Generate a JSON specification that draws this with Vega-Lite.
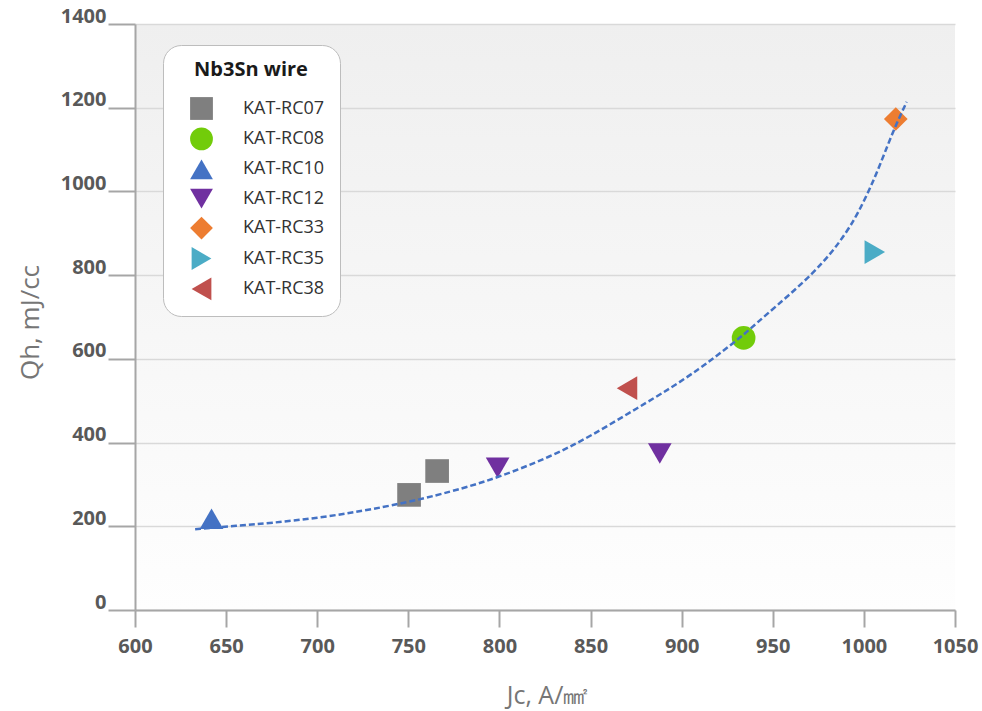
{
  "$schema": "https://vega.github.io/schema/vega-lite/v6.json",
  "width": 820,
  "height": 586,
  "autosize": {"type": "none"},
  "padding": {"left": 135, "top": 24, "right": 27, "bottom": 101},
  "background": "#ffffff",
  "config": {
    "font": "Open Sans",
    "view": {
      "stroke": null,
      "fill": {
        "gradient": "linear",
        "x1": 0, "y1": 0, "x2": 0, "y2": 1,
        "stops": [
          {"offset": 0, "color": "#efefef"},
          {"offset": 1, "color": "#fefefe"}
        ]
      }
    },
    "legend": {
      "orient": "none",
      "legendX": 28,
      "legendY": 21,
      "fillColor": "#ffffff",
      "strokeColor": "#bdbdbd",
      "cornerRadius": 18,
      "padding": 15,
      "symbolOffset": 12,
      "titleFont": "Open Sans",
      "titleFontSize": 20,
      "titleFontWeight": "bold",
      "titleColor": "#1a1a1a",
      "titleAnchor": "middle",
      "titlePadding": 17,
      "labelFont": "Open Sans",
      "labelFontSize": 18,
      "labelColor": "#333333",
      "labelOffset": 30,
      "symbolSize": 520,
      "symbolStrokeWidth": 0,
      "rowPadding": 7.4
    }
  },
  "datasets": {
    "samples": [
      {"wire": "KAT-RC07", "Jc": 750.4, "Qh": 275},
      {"wire": "KAT-RC07", "Jc": 765.8, "Qh": 332},
      {"wire": "KAT-RC08", "Jc": 934, "Qh": 650},
      {"wire": "KAT-RC10", "Jc": 642, "Qh": 218},
      {"wire": "KAT-RC12", "Jc": 799, "Qh": 340},
      {"wire": "KAT-RC12", "Jc": 888, "Qh": 374},
      {"wire": "KAT-RC33", "Jc": 1017.5, "Qh": 1173},
      {"wire": "KAT-RC35", "Jc": 1006, "Qh": 855},
      {"wire": "KAT-RC38", "Jc": 870, "Qh": 530}
    ],
    "fit": [
      {"Jc": 633, "Qh": 193},
      {"Jc": 650, "Qh": 199},
      {"Jc": 700, "Qh": 217},
      {"Jc": 750, "Qh": 256},
      {"Jc": 782, "Qh": 293},
      {"Jc": 800, "Qh": 318},
      {"Jc": 828, "Qh": 366},
      {"Jc": 850, "Qh": 415},
      {"Jc": 877, "Qh": 486},
      {"Jc": 894, "Qh": 530},
      {"Jc": 910, "Qh": 577},
      {"Jc": 921, "Qh": 613},
      {"Jc": 934, "Qh": 657},
      {"Jc": 943, "Qh": 693},
      {"Jc": 974, "Qh": 808},
      {"Jc": 990.6, "Qh": 900},
      {"Jc": 999.7, "Qh": 972},
      {"Jc": 1007, "Qh": 1043},
      {"Jc": 1013, "Qh": 1110},
      {"Jc": 1018, "Qh": 1163},
      {"Jc": 1023.5, "Qh": 1214}
    ]
  },
  "encoding": {
    "x": {
      "field": "Jc",
      "type": "quantitative",
      "scale": {"domain": [600, 1050], "nice": false, "zero": false},
      "axis": {
        "title": "Jc, A/㎟",
        "values": [600, 650, 700, 750, 800, 850, 900, 950, 1000, 1050],
        "format": "d",
        "grid": false,
        "domainColor": "#a6a6a6",
        "domainWidth": 2,
        "tickColor": "#a6a6a6",
        "tickWidth": 2,
        "tickSize": 17,
        "labelFont": "Open Sans",
        "labelFontSize": 20,
        "labelFontWeight": "bold",
        "labelColor": "#595959",
        "labelPadding": 9,
        "labelFlush": false,
        "titleFont": "Open Sans",
        "titleFontSize": 25,
        "titleFontWeight": "normal",
        "titleColor": "#767676",
        "titleX": 412,
        "titleY": 85,
        "titleBaseline": "middle",
        "titleAlign": "center"
      }
    },
    "y": {
      "field": "Qh",
      "type": "quantitative",
      "scale": {"domain": [0, 1400], "nice": false},
      "axis": {
        "title": "Qh, mJ/cc",
        "values": [0, 200, 400, 600, 800, 1000, 1200, 1400],
        "format": "d",
        "grid": true,
        "gridColor": "#d9d9d9",
        "gridWidth": 1.5,
        "domainColor": "#a6a6a6",
        "domainWidth": 2,
        "tickColor": "#a6a6a6",
        "tickWidth": 2,
        "tickSize": 27,
        "labelFont": "Open Sans",
        "labelFontSize": 20,
        "labelFontWeight": "bold",
        "labelColor": "#595959",
        "labelPadding": 2,
        "labelBaseline": "alphabetic",
        "labelOffset": -2,
        "labelFlush": false,
        "titleFont": "Open Sans",
        "titleFontSize": 26,
        "titleFontWeight": "normal",
        "titleColor": "#767676",
        "titleAngle": -90,
        "titleX": -105,
        "titleY": 298,
        "titleBaseline": "middle",
        "titleAlign": "center"
      }
    }
  },
  "layer": [
    {
      "data": {"name": "samples"},
      "mark": {"type": "point", "filled": true, "size": 560, "opacity": 1, "strokeWidth": 0},
      "encoding": {
        "color": {
          "field": "wire",
          "type": "nominal",
          "scale": {
            "domain": ["KAT-RC07", "KAT-RC08", "KAT-RC10", "KAT-RC12", "KAT-RC33", "KAT-RC35", "KAT-RC38"],
            "range": ["#7f7f7f", "#72cc0a", "#4472c4", "#7030a0", "#ed7d31", "#4bacc6", "#c0504d"]
          },
          "legend": {"title": "Nb3Sn wire"}
        },
        "shape": {
          "field": "wire",
          "type": "nominal",
          "scale": {
            "domain": ["KAT-RC07", "KAT-RC08", "KAT-RC10", "KAT-RC12", "KAT-RC33", "KAT-RC35", "KAT-RC38"],
            "range": ["square", "circle", "triangle-up", "triangle-down", "diamond", "triangle-right", "triangle-left"]
          },
          "legend": {"title": "Nb3Sn wire"}
        }
      }
    },
    {
      "data": {"name": "fit"},
      "mark": {"type": "line", "interpolate": "basis", "strokeDash": [6, 3], "strokeWidth": 2.5, "color": "#4472c4"},
      "encoding": {}
    }
  ]
}
